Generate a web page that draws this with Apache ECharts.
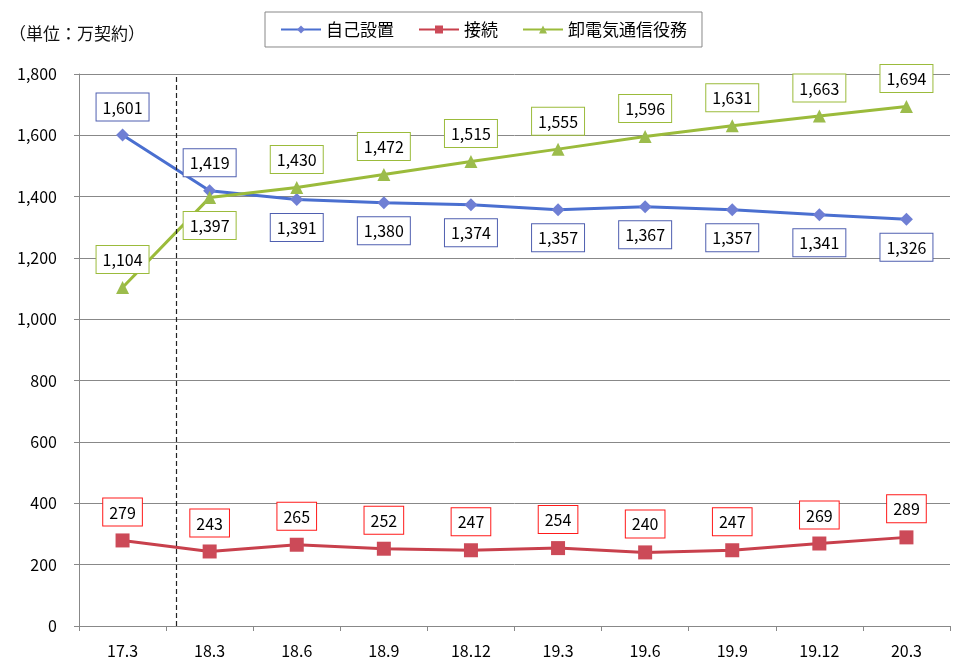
<!DOCTYPE html>
<html><head><meta charset="utf-8">
<script src="https://cdn.jsdelivr.net/npm/echarts@6/dist/echarts.min.js"></script>
<style>html,body{margin:0;padding:0;background:#fff}#c{width:955px;height:661px}</style>
</head><body><div id="c"></div>
<script>
const categories = ['17.3','18.3','18.6','18.9','18.12','19.3','19.6','19.9','19.12','20.3'];
const selfInstalled = [1601,1419,1391,1380,1374,1357,1367,1357,1341,1326];
const connection = [279,243,265,252,247,254,240,247,269,289];
const wholesale = [1104,1397,1430,1472,1515,1555,1596,1631,1663,1694];
const seriesNames = ['自己設置','接続','卸電気通信役務'];
const unitLabel = '（単位：万契約）';
const dividerAt = 0.62;

const blueLabelPos = ['top','top','bottom','bottom','bottom','bottom','bottom','bottom','bottom','bottom'];
const greenLabelPos = ['top','bottom','top','top','top','top','top','top','top','top'];

const FONT = '"Noto Sans CJK JP", "Noto Sans", sans-serif';
const fmt = v => v.toLocaleString('en-US');
function mkLabel(border){
  return {show:true, formatter:p=>fmt(p.value), color:'#000', fontSize:16, fontFamily:FONT,
    backgroundColor:'#fff', borderColor:border, borderWidth:1, padding:[6,6,5,6], distance:8};
}
const chart = echarts.init(document.getElementById('c'));
chart.setOption({
  animation:false,
  textStyle:{fontFamily:FONT},
  title:{text:unitLabel, left:4, top:20, textStyle:{fontSize:17, fontWeight:'normal', color:'#111', fontFamily:FONT}},
  legend:{
    data:[{name:seriesNames[0]},{name:seriesNames[1]},{name:seriesNames[2]}],
    left:265, top:12, itemGap:24, itemWidth:40, itemHeight:10,
    borderColor:'#888', borderWidth:1, padding:[9,15,9,15],
    textStyle:{fontSize:17, color:'#000', fontFamily:FONT}
  },
  grid:{left:79, right:5, top:74, bottom:35},
  xAxis:[{
    type:'category', data:categories, boundaryGap:true,
    axisLine:{lineStyle:{color:'#888'}},
    axisTick:{show:true, length:5, lineStyle:{color:'#888'}},
    axisLabel:{color:'#000', fontSize:16, margin:17, fontFamily:FONT}
  },{
    type:'value', min:-0.5, max:9.5, show:false,
    splitLine:{show:false}, axisLine:{show:false}, axisTick:{show:false}, axisLabel:{show:false}
  }],
  yAxis:{
    type:'value', min:0, max:1800, interval:200,
    axisLine:{show:true, onZero:false, lineStyle:{color:'#888'}},
    axisTick:{show:true, length:5, lineStyle:{color:'#888'}},
    splitLine:{lineStyle:{color:'#888', width:1}},
    axisLabel:{color:'#000', fontSize:16, margin:22, formatter:v=>fmt(v), fontFamily:FONT}
  },
  series:[
    {name:seriesNames[0], type:'line', symbol:'diamond', symbolSize:13,
     lineStyle:{color:'#4a6fd0', width:3}, itemStyle:{color:'#6f7fd4'},
     data:selfInstalled.map((v,i)=>({value:v, label:{position:blueLabelPos[i]}})),
     label:mkLabel('#4f5fb0')},
    {name:seriesNames[1], type:'line', symbol:'rect', symbolSize:14,
     lineStyle:{color:'#c8404c', width:3}, itemStyle:{color:'#cc4a58'},
     data:connection, label:Object.assign(mkLabel('#ff1a1a'),{position:'top'})},
    {name:seriesNames[2], type:'line', symbol:'triangle', symbolSize:13,
     lineStyle:{color:'#9bbb3b', width:3}, itemStyle:{color:'#9cbc4c'},
     data:wholesale.map((v,i)=>({value:v, label:{position:greenLabelPos[i]}})),
     label:mkLabel('#9bbb3b')},
    {type:'line', xAxisIndex:1, data:[], silent:true,
     markLine:{symbol:'none', silent:true, label:{show:false},
       lineStyle:{color:'#222', type:[5,3], width:1.2},
       data:[{xAxis:dividerAt}]}}
  ]
});
</script></body></html>
